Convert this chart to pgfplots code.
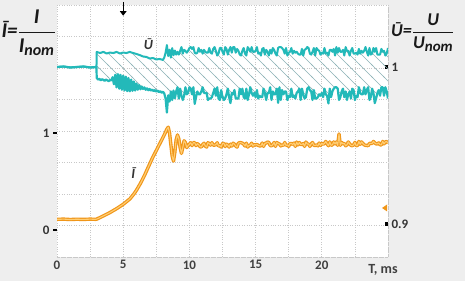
\documentclass[border=0pt]{standalone}
\usepackage{amsmath}
\usepackage{fontspec}
\setmainfont{Carlito}
\usepackage{pgfplots}
\pgfplotsset{compat=1.18}
\usepgfplotslibrary{fillbetween}
\usetikzlibrary{patterns,arrows.meta}
\pgfdeclarepatternformonly{hatchlines}{\pgfqpoint{-1pt}{-1pt}}{\pgfqpoint{13pt}{13pt}}{\pgfqpoint{12pt}{12pt}}{%
  \pgfsetlinewidth{0.6pt}%
  \pgfpathmoveto{\pgfqpoint{-1pt}{13pt}}\pgfpathlineto{\pgfqpoint{13pt}{-1pt}}%
  \pgfusepath{stroke}}
\definecolor{tealc}{RGB}{35,185,185}
\definecolor{hatchc}{RGB}{140,178,182}
\definecolor{ordark}{RGB}{240,150,25}
\definecolor{orlight}{RGB}{255,205,115}
\definecolor{bgc}{RGB}{238,238,238}
\definecolor{gridc}{RGB}{200,200,200}
\newcommand\tl{\fontsize{13}{13}\selectfont\bfseries}
\pagecolor{bgc}
\begin{document}%
\begin{tikzpicture}
\path (0pt,0pt) rectangle (465pt,281pt);
\pgfplotsset{base/.style={set layers, at={(57pt,24pt)}, anchor=south west, scale only axis, width=331pt, height=252pt, xmin=0, xmax=25}}
% grid axis
\begin{axis}[base, ymin=0, ymax=8,
  xtick={0,2.5,5,7.5,10,12.5,15,17.5,20,22.5,25},
  ytick={0,1,2,3,4,5,6,7,8},
  grid=major,
  major grid style={gridc, dash pattern=on 0.8pt off 1.6pt, line width=0.8pt},
  axis line style={gridc, dash pattern=on 0.8pt off 1.6pt, line width=0.8pt},
  major tick length=0pt,
  xticklabels={0,,5,,10,,15,,20,,},
  yticklabel=\empty,
  xticklabel style={font=\tl, text=black!75},
  axis background/.style={fill=white},
  clip=false]
\draw[black, line width=1.3pt, -{Triangle[length=4.5pt,width=6.5pt]}] (axis cs:5,8.1) -- (axis cs:5,7.66);
\node[anchor=base, font=\fontsize{14}{14}\selectfont\bfseries, text=black!75, xshift=-5pt, yshift=-16pt] at (axis cs:25,0) {T, ms};
\end{axis}
% U axis (right)
\begin{axis}[base, ymin=0.87898, ymax=1.03949, hide x axis,
  axis y line*=right, y axis line style={draw=none},
  ytick={0.9,1}, yticklabels={0.9,1},
  yticklabel style={font=\tl, text=black!80},
  major tick style={black, line width=3.5pt}, major tick length=3.5pt, tick align=inside]
\addplot[name path=up, tealc, line width=2pt, line join=round] coordinates {
(0,1.0000) (0.5,1.0003) (1,0.9997) (1.5,1.0000) (2,1.0003) (2.5,0.9997) (2.98,1.0000)
(3.0,1.0096) (3.25,1.0089) (3.5,1.0096) (3.75,1.0086) (4.0,1.0092) (4.25,1.0089) (4.5,1.0096) (4.75,1.0086)
(5.0,1.0092) (5.25,1.0089) (5.5,1.0096) (5.75,1.0089) (6.0,1.0083) (6.25,1.0076) (6.5,1.0067) (6.75,1.0064)
(7.0,1.0054) (7.25,1.0057) (7.5,1.0048) (7.75,1.0051) (8.0,1.0045) (8.1,1.0060) (8.2,1.0090) (8.3,1.0140)
(8.4,1.0070) (8.5,1.0110) (8.6,1.0060) (8.7,1.0120) (8.8,1.0075) (8.9,1.0105)
(9.0,1.0079) (9.1,1.0097) (9.2,1.0079) (9.3,1.0103) (9.4,1.0127) (9.5,1.0085) (9.6,1.0109) (9.7,1.0103) (9.8,1.0091) (9.9,1.0103)
(10.0,1.0121) (10.1,1.0127) (10.2,1.0115) (10.3,1.0127) (10.4,1.0091) (10.5,1.0085) (10.6,1.0091) (10.7,1.0121) (10.8,1.0097) (10.9,1.0109)
(11.0,1.0085) (11.1,1.0109) (11.2,1.0097) (11.3,1.0091) (11.4,1.0091) (11.5,1.0121) (11.6,1.0091) (11.7,1.0085) (11.8,1.0115) (11.9,1.0127)
(12.0,1.0103) (12.1,1.0073) (12.2,1.0085) (12.3,1.0121) (12.4,1.0121) (12.5,1.0097) (12.6,1.0079) (12.7,1.0127) (12.8,1.0115) (12.9,1.0079)
(13.0,1.0109) (13.1,1.0127) (13.2,1.0091) (13.3,1.0127) (13.4,1.0127) (13.5,1.0091) (13.6,1.0115) (13.7,1.0103) (13.8,1.0079) (13.9,1.0073)
(14.0,1.0103) (14.1,1.0121) (14.2,1.0085) (14.3,1.0073) (14.4,1.0127) (14.5,1.0115) (14.6,1.0097) (14.7,1.0127) (14.8,1.0097) (14.9,1.0097)
(15.0,1.0103) (15.1,1.0127) (15.2,1.0085) (15.3,1.0091) (15.4,1.0073) (15.5,1.0115) (15.6,1.0121) (15.7,1.0079) (15.8,1.0109) (15.9,1.0097)
(16.0,1.0073) (16.1,1.0109) (16.2,1.0085) (16.3,1.0121) (16.4,1.0109) (16.5,1.0085) (16.6,1.0073) (16.7,1.0121) (16.8,1.0127) (16.9,1.0127)
(17.0,1.0121) (17.1,1.0109) (17.2,1.0085) (17.3,1.0121) (17.4,1.0073) (17.5,1.0091) (17.6,1.0097) (17.7,1.0121) (17.8,1.0085) (17.9,1.0103)
(18.0,1.0091) (18.1,1.0097) (18.2,1.0085) (18.3,1.0079) (18.4,1.0079) (18.5,1.0115) (18.6,1.0073) (18.7,1.0109) (18.8,1.0115) (18.9,1.0127)
(19.0,1.0121) (19.1,1.0085) (19.2,1.0079) (19.3,1.0097) (19.4,1.0121) (19.5,1.0073) (19.6,1.0121) (19.7,1.0109) (19.8,1.0103) (19.9,1.0079)
(20.0,1.0091) (20.1,1.0085) (20.2,1.0121) (20.3,1.0085) (20.4,1.0091) (20.5,1.0073) (20.6,1.0109) (20.7,1.0109) (20.8,1.0097) (20.9,1.0115)
(21.0,1.0073) (21.1,1.0127) (21.2,1.0091) (21.3,1.0121) (21.4,1.0097) (21.5,1.0097) (21.6,1.0109) (21.7,1.0073) (21.8,1.0127) (21.9,1.0103)
(22.0,1.0103) (22.1,1.0073) (22.2,1.0103) (22.3,1.0121) (22.4,1.0085) (22.5,1.0085) (22.6,1.0091) (22.7,1.0079) (22.8,1.0115) (22.9,1.0085)
(23.0,1.0103) (23.1,1.0091) (23.2,1.0103) (23.3,1.0127) (23.4,1.0097) (23.5,1.0073) (23.6,1.0121) (23.7,1.0079) (23.8,1.0085) (23.9,1.0121)
(24.0,1.0097) (24.1,1.0121) (24.2,1.0079) (24.3,1.0079) (24.4,1.0079) (24.5,1.0115) (24.6,1.0097) (24.7,1.0103) (24.8,1.0073) (24.9,1.0085)
(25.0,1.0121)
};
\addplot[name path=lo, tealc, line width=2.2pt, line join=round] coordinates {
(0,1.0000) (0.5,1.0003) (1,0.9997) (1.5,1.0000) (2,1.0003) (2.5,0.9997) (2.98,1.0000)
(3.0,0.9930) (3.1,0.9920) (3.2,0.9925) (3.3,0.9915) (3.4,0.9922) (3.5,0.9918) (3.6,0.9912) (3.7,0.9920) (3.8,0.9915) (3.9,0.9910)
(4.0,0.9916) (4.1,0.9915) (4.2,0.9935) (4.3,0.9890) (4.4,0.9950) (4.5,0.9870) (4.6,0.9955) (4.7,0.9862) (4.8,0.9950) (4.9,0.9855)
(5.0,0.9945) (5.1,0.9850) (5.2,0.9938) (5.3,0.9846) (5.4,0.9930) (5.5,0.9845) (5.6,0.9920) (5.7,0.9848) (5.8,0.9908) (5.9,0.9850)
(6.0,0.9895) (6.1,0.9855) (6.2,0.9885) (6.3,0.9858) (6.4,0.9876) (6.5,0.9860) (6.6,0.9870) (6.7,0.9855) (6.8,0.9864) (6.9,0.9852)
(7.0,0.9860) (7.1,0.9850) (7.2,0.9856) (7.3,0.9846) (7.4,0.9853) (7.5,0.9843) (7.6,0.9850) (7.7,0.9840) (7.8,0.9846) (7.9,0.9836)
(8.0,0.9842) (8.1,0.9832) (8.2,0.9800) (8.3,0.9710) (8.4,0.9820) (8.5,0.9780) (8.6,0.9845) (8.7,0.9790) (8.8,0.9850) (8.9,0.9800)
(9.0,0.9844) (9.1,0.9871) (9.2,0.9799) (9.3,0.9862) (9.4,0.9817) (9.5,0.9790) (9.6,0.9817) (9.7,0.9871) (9.8,0.9826) (9.9,0.9835)
(10.0,0.9871) (10.1,0.9862) (10.2,0.9826) (10.3,0.9871) (10.4,0.9765) (10.5,0.9808) (10.6,0.9844) (10.7,0.9826) (10.8,0.9826) (10.9,0.9844)
(11.0,0.9871) (11.1,0.9835) (11.2,0.9835) (11.3,0.9835) (11.4,0.9790) (11.5,0.9799) (11.6,0.9799) (11.7,0.9808) (11.8,0.9835) (11.9,0.9862)
(12.0,0.9817) (12.1,0.9871) (12.2,0.9799) (12.3,0.9790) (12.4,0.9853) (12.5,0.9808) (12.6,0.9790) (12.7,0.9799) (12.8,0.9826) (12.9,0.9862)
(13.0,0.9808) (13.1,0.9770) (13.2,0.9835) (13.3,0.9826) (13.4,0.9853) (13.5,0.9799) (13.6,0.9799) (13.7,0.9799) (13.8,0.9862) (13.9,0.9826)
(14.0,0.9862) (14.1,0.9808) (14.2,0.9799) (14.3,0.9862) (14.4,0.9790) (14.5,0.9826) (14.6,0.9871) (14.7,0.9835) (14.8,0.9817) (14.9,0.9835)
(15.0,0.9808) (15.1,0.9853) (15.2,0.9799) (15.3,0.9817) (15.4,0.9808) (15.5,0.9808) (15.6,0.9862) (15.7,0.9835) (15.8,0.9790) (15.9,0.9835)
(16.0,0.9835) (16.1,0.9871) (16.2,0.9790) (16.3,0.9844) (16.4,0.9826) (16.5,0.9826) (16.6,0.9862) (16.7,0.9772) (16.8,0.9871) (16.9,0.9790)
(17.0,0.9853) (17.1,0.9826) (17.2,0.9844) (17.3,0.9844) (17.4,0.9790) (17.5,0.9817) (17.6,0.9808) (17.7,0.9862) (17.8,0.9808) (17.9,0.9817)
(18.0,0.9799) (18.1,0.9835) (18.2,0.9844) (18.3,0.9862) (18.4,0.9790) (18.5,0.9862) (18.6,0.9826) (18.7,0.9799) (18.8,0.9808) (18.9,0.9862)
(19.0,0.9871) (19.1,0.9853) (19.2,0.9844) (19.3,0.9790) (19.4,0.9853) (19.5,0.9799) (19.6,0.9799) (19.7,0.9808) (19.8,0.9826) (19.9,0.9817)
(20.0,0.9835) (20.1,0.9808) (20.2,0.9862) (20.3,0.9826) (20.4,0.9817) (20.5,0.9768) (20.6,0.9862) (20.7,0.9808) (20.8,0.9844) (20.9,0.9862)
(21.0,0.9871) (21.1,0.9871) (21.2,0.9862) (21.3,0.9790) (21.4,0.9808) (21.5,0.9844) (21.6,0.9862) (21.7,0.9808) (21.8,0.9844) (21.9,0.9790)
(22.0,0.9826) (22.1,0.9844) (22.2,0.9799) (22.3,0.9862) (22.4,0.9853) (22.5,0.9790) (22.6,0.9817) (22.7,0.9808) (22.8,0.9871) (22.9,0.9835)
(23.0,0.9826) (23.1,0.9826) (23.2,0.9871) (23.3,0.9826) (23.4,0.9853) (23.5,0.9871) (23.6,0.9790) (23.7,0.9808) (23.8,0.9862) (23.9,0.9835)
(24.0,0.9770) (24.1,0.9799) (24.2,0.9835) (24.3,0.9853) (24.4,0.9817) (24.5,0.9871) (24.6,0.9871) (24.7,0.9817) (24.8,0.9871) (24.9,0.9844)
(25.0,0.9799)
};
\addplot[pattern=hatchlines, pattern color=hatchc] fill between[of=up and lo];
\node[font=\fontsize{14}{14}\selectfont\bfseries\itshape, text=black!80] at (axis cs:6.9,1.0147) {Ū};
\end{axis}
% I axis (left)
\begin{axis}[base, ymin=-0.2784, ymax=2.3196, hide x axis,
  axis y line*=left, y axis line style={draw=none},
  ytick={0,1}, yticklabels={0,1},
  yticklabel style={font=\tl, text=black!80},
  major tick style={black, line width=1.4pt}, major tick length=4pt, tick align=outside]
\addplot[orlight, line width=1.1pt, line join=round, preaction={draw=ordark, line width=3.4pt}] coordinates {
(0,0.110) (0.5,0.112) (1.0,0.108) (1.5,0.111) (2.0,0.109) (2.5,0.112) (2.9,0.110) (3.0,0.112)
(3.5,0.145) (4.0,0.180) (4.5,0.220) (5.0,0.265) (5.5,0.320) (5.8,0.370) (6.0,0.410) (6.3,0.480)
(6.6,0.560) (6.9,0.650) (7.2,0.740) (7.5,0.820) (7.8,0.900) (8.1,0.980) (8.3,1.040) (8.4,1.060)
(8.5,1.000) (8.6,0.880) (8.7,0.760) (8.8,0.710) (8.9,0.800) (9.0,0.930) (9.1,0.980) (9.2,0.940)
(9.3,0.850) (9.4,0.790) (9.5,0.850) (9.6,0.920) (9.7,0.900) (9.8,0.850) (9.9,0.870)
(10.0,0.885) (10.1,0.900) (10.2,0.870) (10.3,0.900) (10.4,0.900) (10.5,0.870) (10.6,0.890) (10.7,0.880) (10.8,0.860) (10.9,0.855)
(11.0,0.880) (11.1,0.895) (11.2,0.865) (11.3,0.855) (11.4,0.900) (11.5,0.890) (11.6,0.875) (11.7,0.900) (11.8,0.875) (11.9,0.875)
(12.0,0.880) (12.1,0.900) (12.2,0.865) (12.3,0.870) (12.4,0.855) (12.5,0.890) (12.6,0.895) (12.7,0.860) (12.8,0.885) (12.9,0.875)
(13.0,0.855) (13.1,0.885) (13.2,0.865) (13.3,0.895) (13.4,0.885) (13.5,0.865) (13.6,0.855) (13.7,0.895) (13.8,0.900) (13.9,0.900)
(14.0,0.895) (14.1,0.885) (14.2,0.865) (14.3,0.895) (14.4,0.855) (14.5,0.870) (14.6,0.875) (14.7,0.895) (14.8,0.865) (14.9,0.880)
(15.0,0.877) (15.1,0.882) (15.2,0.872) (15.3,0.867) (15.4,0.867) (15.5,0.897) (15.6,0.862) (15.7,0.892) (15.8,0.897) (15.9,0.907)
(16.0,0.902) (16.1,0.872) (16.2,0.867) (16.3,0.882) (16.4,0.902) (16.5,0.862) (16.6,0.902) (16.7,0.892) (16.8,0.887) (16.9,0.867)
(17.0,0.877) (17.1,0.872) (17.2,0.902) (17.3,0.872) (17.4,0.877) (17.5,0.862) (17.6,0.892) (17.7,0.892) (17.8,0.882) (17.9,0.897)
(18.0,0.862) (18.1,0.907) (18.2,0.877) (18.3,0.902) (18.4,0.882) (18.5,0.882) (18.6,0.892) (18.7,0.862) (18.8,0.907) (18.9,0.887)
(19.0,0.887) (19.1,0.862) (19.2,0.887) (19.3,0.902) (19.4,0.872) (19.5,0.872) (19.6,0.877) (19.7,0.867) (19.8,0.897) (19.9,0.872)
(20.0,0.893) (20.1,0.883) (20.2,0.893) (20.3,0.913) (20.4,0.888) (20.5,0.868) (20.6,0.908) (20.7,0.873) (20.8,0.878) (20.9,0.908)
(21.0,0.888) (21.1,0.908) (21.2,0.873) (21.3,0.990) (21.4,0.873) (21.5,0.903) (21.6,0.888) (21.7,0.893) (21.8,0.868) (21.9,0.878)
(22.0,0.908) (22.1,0.888) (22.2,0.873) (22.3,0.868) (22.4,0.878) (22.5,0.903) (22.6,0.868) (22.7,0.873) (22.8,0.913) (22.9,0.883)
(23.0,0.908) (23.1,0.893) (23.2,0.878) (23.3,0.873) (23.4,0.873) (23.5,0.868) (23.6,0.893) (23.7,0.893) (23.8,0.893) (23.9,0.913)
(24.0,0.898) (24.1,0.888) (24.2,0.888) (24.3,0.898) (24.4,0.878) (24.5,0.878) (24.6,0.913) (24.7,0.888) (24.8,0.908) (24.9,0.913)
(25.0,0.893)
};
\node[font=\fontsize{14}{14}\selectfont\bfseries\itshape, text=black!80] at (axis cs:5.75,0.59) {Ī};
\fill[ordark] (axis cs:24.55,0.227) -- (axis cs:24.93,0.263) -- (axis cs:24.93,0.191) -- cycle;
\end{axis}
% formula labels
\node[anchor=base east, font=\fontsize{21}{21}\selectfont\bfseries\itshape, text=black!90, inner sep=0pt] at (56pt,243pt)
  {$\text{Ī=}\dfrac{\text{I}}{\text{I}_{\text{\fontsize{16}{16}\selectfont nom}}}$};
\node[anchor=base west, font=\fontsize{18}{18}\selectfont\bfseries\itshape, text=black!90, inner sep=0pt] at (391pt,244pt)
  {$\text{Ū=}\dfrac{\text{U}}{\text{U}_{\text{\fontsize{15}{15}\selectfont nom}}}$};
\pgfresetboundingbox
\path[use as bounding box] (0pt,0pt) rectangle (465pt,281pt);
\end{tikzpicture}%
\end{document}
